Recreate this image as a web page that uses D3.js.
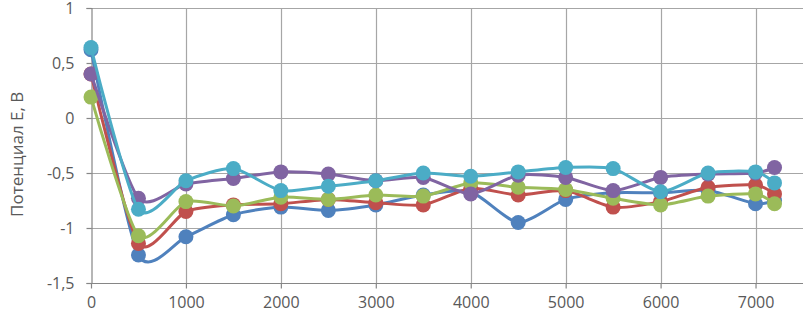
<!DOCTYPE html>
<html>
<head>
<meta charset="utf-8">
<script src="https://cdn.jsdelivr.net/npm/d3@7"></script>
<style>
  body { margin: 0; background: #fff; }
  svg text { font-family: "Open Sans", sans-serif; fill: #595959; }
</style>
</head>
<body>
<svg id="drawing_region"></svg>
<script>
// time points (x) and potentials for each series
const times = [0, 500, 1000, 1500, 2000, 2500, 3000, 3500, 4000, 4500, 5000, 5500, 6000, 6500, 7000, 7200];
const blue   = [0.62, -1.245, -1.08, -0.88, -0.81, -0.84, -0.79, -0.70, -0.67, -0.95, -0.74, -0.68, -0.68, -0.66, -0.78, -0.75];
const red    = [0.40, -1.14, -0.85, -0.79, -0.78, -0.74, -0.77, -0.79, -0.64, -0.70, -0.66, -0.81, -0.76, -0.63, -0.61, -0.69];
const green  = [0.19, -1.07, -0.76, -0.80, -0.72, -0.74, -0.70, -0.71, -0.59, -0.63, -0.65, -0.73, -0.79, -0.71, -0.69, -0.78];
const purple = [0.40, -0.73, -0.60, -0.55, -0.49, -0.51, -0.57, -0.54, -0.69, -0.52, -0.54, -0.66, -0.54, -0.51, -0.50, -0.45];
const cyan   = [0.64, -0.83, -0.57, -0.46, -0.66, -0.62, -0.57, -0.50, -0.53, -0.49, -0.45, -0.46, -0.67, -0.50, -0.49, -0.59];

const xTicks = [0, 1000, 2000, 3000, 4000, 5000, 6000, 7000];
const yTicks = [-1.5, -1, -0.5, 0, 0.5, 1];

const seriesList = [
    { values: blue,   color: '#4f81bd' },
    { values: red,    color: '#c0504d' },
    { values: green,  color: '#9bbb59' },
    { values: purple, color: '#8064a2' },
    { values: cyan,   color: '#4bacc6' }
];

const width = 808, height = 317;
const margin = {top: 8, right: 5, bottom: 34, left: 91};

const svg = d3.select('#drawing_region')
    .attr('width', width)
    .attr('height', height);

const xscale = d3.scaleLinear()
    .domain([0, 7500])
    .range([margin.left, width - margin.right]);

const yscale = d3.scaleLinear()
    .domain([-1.5, 1])
    .range([height - margin.bottom, margin.top]);

// grid lines
svg.append('g')
    .selectAll('line')
    .data(yTicks)
    .enter()
    .append('line')
    .attr('x1', xscale(0))
    .attr('x2', xscale(7500))
    .attr('y1', d => Math.round(yscale(d)) + 0.5)
    .attr('y2', d => Math.round(yscale(d)) + 0.5)
    .attr('stroke', '#a6a6a6')
    .attr('stroke-width', 1.2);

svg.append('g')
    .selectAll('line')
    .data(xTicks.slice(1))
    .enter()
    .append('line')
    .attr('x1', d => Math.round(xscale(d)) + 0.5)
    .attr('x2', d => Math.round(xscale(d)) + 0.5)
    .attr('y1', yscale(1))
    .attr('y2', yscale(-1.5))
    .attr('stroke', '#a6a6a6')
    .attr('stroke-width', 1.2);

// axes
const fmt = d => String(d).replace('.', ',');

const xaxis = d3.axisBottom(xscale)
    .tickValues(xTicks)
    .tickFormat(d => String(d))
    .tickSize(5)
    .tickPadding(8);

const yaxis = d3.axisLeft(yscale)
    .tickValues(yTicks)
    .tickFormat(fmt)
    .tickSize(5)
    .tickPadding(12);

const xg = svg.append('g')
    .attr('transform', `translate(0, ${Math.round(yscale(-1.5)) + 0.5})`)
    .call(xaxis);

const yg = svg.append('g')
    .attr('transform', `translate(${Math.round(xscale(0)) + 0.5}, 0)`)
    .call(yaxis);

[xg, yg].forEach(g => {
    g.select('.domain').attr('stroke', '#868686').attr('stroke-width', 1.2);
    g.selectAll('.tick line').attr('stroke', '#868686').attr('stroke-width', 1.2);
    g.selectAll('.tick text')
        .attr('font-size', 16)
        .style('font-family', '"Open Sans", sans-serif')
        .attr('fill', '#595959');
});
xg.select('.domain').attr('d', `M${xscale(0)},0H${xscale(7500)}`);

// y axis title
svg.append('text')
    .attr('transform', `translate(23, ${yscale(-0.33)}) rotate(-90)`)
    .attr('text-anchor', 'middle')
    .attr('font-size', 17)
    .text('Потенциал E, В');

// series
const line = d3.line()
    .x((d, i) => xscale(times[i]))
    .y(d => yscale(d))
    .curve(d3.curveCardinal.tension(0.3));

seriesList.forEach(s => {
    const g = svg.append('g');
    g.append('path')
        .datum(s.values)
        .attr('d', line)
        .attr('fill', 'none')
        .attr('stroke', s.color)
        .attr('stroke-width', 3);
    g.selectAll('circle')
        .data(s.values)
        .enter()
        .append('circle')
        .attr('cx', (d, i) => xscale(times[i]))
        .attr('cy', d => yscale(d))
        .attr('r', 7.5)
        .attr('fill', s.color);
});
</script>
</body>
</html>
